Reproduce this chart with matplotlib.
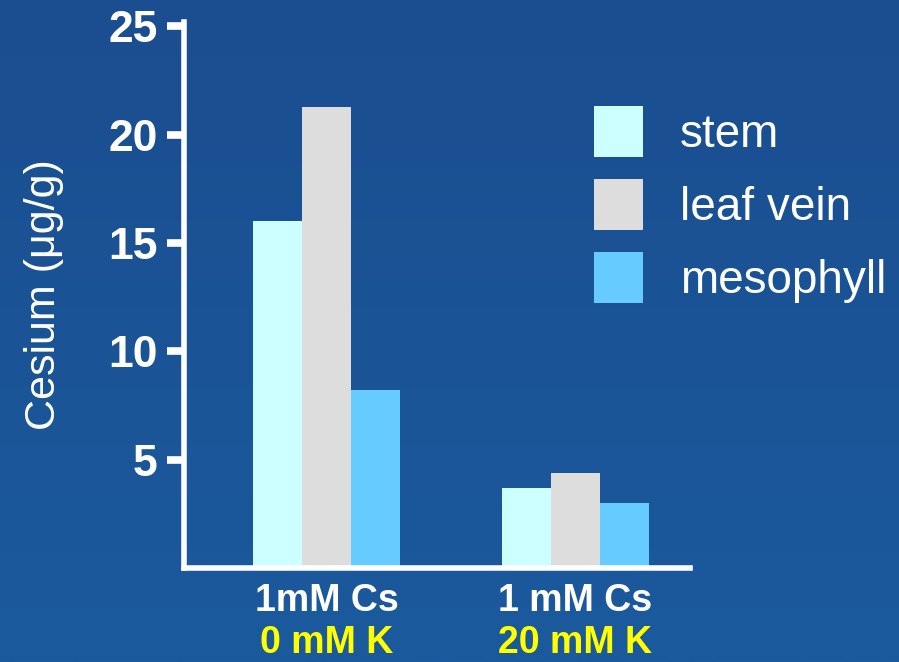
import numpy as np
import matplotlib
matplotlib.use("Agg")
import matplotlib.pyplot as plt
from matplotlib.colors import LinearSegmentedColormap
from matplotlib.patches import Patch

plt.rcParams['font.family'] = ['Liberation Sans', 'DejaVu Sans']

# Data
conditions_cs = ["1mM Cs", "1 mM Cs"]
conditions_k = ["0 mM K", "20 mM K"]
tissues = ["stem", "leaf vein", "mesophyll"]
stem = [16.0, 3.7]
leaf_vein = [21.3, 4.4]
mesophyll = [8.2, 3.0]
y_ticks = [5, 10, 15, 20, 25]

colors = ["#ccffff", "#dddddd", "#66ccff"]

W, H, DPI = 899, 662, 100
fig = plt.figure(figsize=(W / DPI, H / DPI), dpi=DPI)

# Blue slide-style background
bg = fig.add_axes([0, 0, 1, 1], zorder=-10)
cmap = LinearSegmentedColormap.from_list("bg", ["#1b4e90", "#1a5a9d"])
bg.imshow(np.linspace(0, 1, 256).reshape(-1, 1), aspect="auto", cmap=cmap,
          extent=[0, 1, 0, 1], origin="upper")
bg.axis("off")

ax = fig.add_axes([184 / W, (H - 568) / H, (690 - 184) / W, (568 - 22) / H])
ax.patch.set_alpha(0)

x = np.arange(len(conditions_cs))
bw = 0.197
series = [stem, leaf_vein, mesophyll]
for i, (vals, col, name) in enumerate(zip(series, colors, tissues)):
    ax.bar(x + (i - 1) * bw, vals, width=bw, color=col, linewidth=0, label=name)

ax.set_xlim(-0.572, 1.46)
ax.set_ylim(0, 25.2)

for s in ["top", "right"]:
    ax.spines[s].set_visible(False)
for s in ["left", "bottom"]:
    ax.spines[s].set_color("white")
    ax.spines[s].set_linewidth(4)

ax.set_yticks(y_ticks)
ax.set_yticklabels([str(t) for t in y_ticks], fontsize=32, fontweight="bold", color="white")
ax.tick_params(axis="y", length=12, width=5.5, color="white", pad=7)
ax.set_xticks([])

ax.set_ylabel("Cesium (\u03bcg/g)", fontsize=31, color="white", labelpad=32)

for xi, l1, l2 in zip(x, conditions_cs, conditions_k):
    ax.annotate(l1, xy=(xi, 0), xycoords="data", xytext=(0, -24), textcoords="offset points",
                ha="center", va="center", fontsize=27, fontweight="bold", color="white",
                annotation_clip=False)
    ax.annotate(l2, xy=(xi, 0), xycoords="data", xytext=(0, -54), textcoords="offset points",
                ha="center", va="center", fontsize=27, fontweight="bold", color="#ffff00",
                annotation_clip=False)

handles = [Patch(facecolor=c, edgecolor="none") for c in colors]
leg = ax.legend(handles, tissues, loc="upper left",
                bbox_to_anchor=(594 / W, (H - 106) / H), bbox_transform=fig.transFigure,
                frameon=False, fontsize=33, handlelength=1.07, handleheight=1.35,
                labelspacing=0.47, handletextpad=0.8, borderpad=0, borderaxespad=0)
for t in leg.get_texts():
    t.set_color("white")

fig.savefig("out.png", dpi=DPI)
